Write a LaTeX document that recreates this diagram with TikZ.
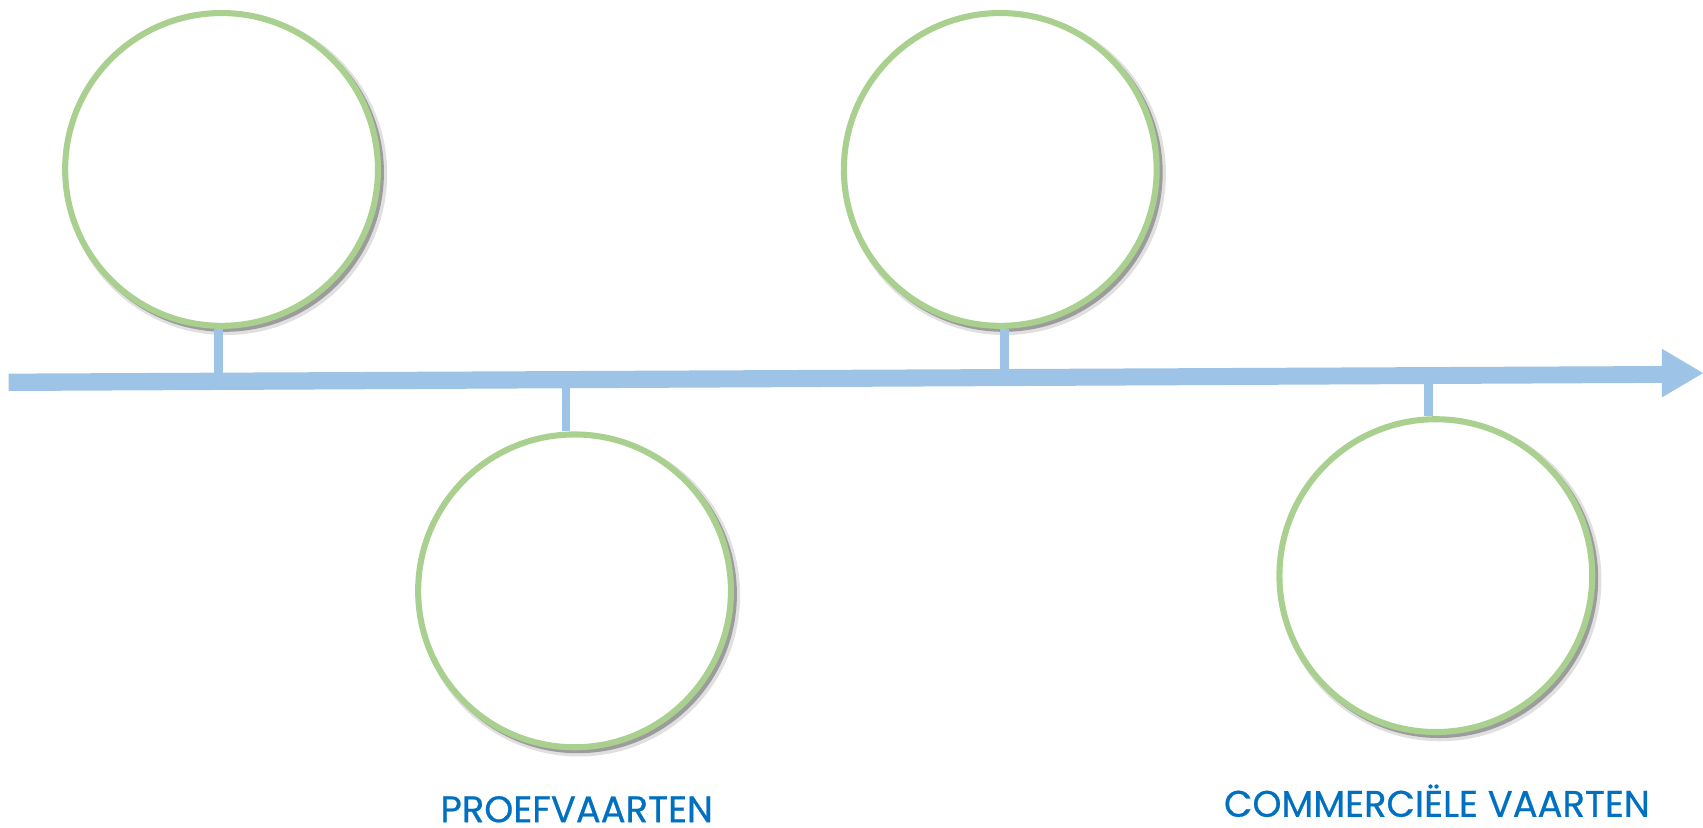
\documentclass[tikz,border=0pt]{standalone}
\usepackage{fontspec}
\setmainfont{Poppins}[FakeBold=0.6]
\usetikzlibrary{arrows.meta}
\definecolor{ringgreen}{RGB}{169,208,142}
\definecolor{lineblue}{RGB}{157,195,230}
\definecolor{textblue}{RGB}{0,112,192}
\tikzset{
  ring/.style={circle, draw=ringgreen, line width=2.8pt, fill=white, minimum size=144pt, inner sep=0pt},
  ringshadow/.style={circle, draw=black, line width=2.5pt, opacity=0.3, minimum size=144pt, inner sep=0pt},
  ringhalo/.style={circle, draw=black, line width=4.5pt, opacity=0.12, minimum size=144pt, inner sep=0pt},
  stem/.style={draw=lineblue, line width=4pt},
  label/.style={text=textblue, font=\fontsize{17}{20}\selectfont, inner sep=0pt, anchor=base},
}
\begin{document}
\begin{tikzpicture}[x=0.5pt,y=-0.5pt]
\useasboundingbox (0,0) rectangle (1568,762);
% axis
\fill[lineblue] (8,344) -- (1530,337) -- (1530,321) -- (1568,343.5) -- (1530,366) -- (1530,352.5) -- (8,360) -- cycle;
% shadows
\foreach \cx/\cy in {204/156,529/544,921/156,1322/530}{
  \node[ringhalo] at (\cx+4,\cy+4) {};
  \node[ringshadow] at (\cx+3,\cy+3) {};
}
% rings
\node[ring] (c1) at (204,156) {};
\node[ring] (c2) at (529,544) {};
\node[ring] (c3) at (921,156) {};
\node[ring] (c4) at (1322,530) {};
% stems
\coordinate (s1) at (201,346);
\coordinate (s2) at (521,356);
\coordinate (s3) at (925,341);
\coordinate (s4) at (1315,352);
\draw[stem] (s1) -- (c1.south -| s1);
\draw[stem] (s2) -- (s2 |- c2.north);
\draw[stem] (s3) -- (c3.south -| s3);
\draw[stem] (s4) -- (s4 |- c4.north);
% labels
\node[label] (t1) at (531,757) {PROEFVAARTEN};
\node[label] (t2) at (1323,752) {COMMERCIËLE VAARTEN};
\end{tikzpicture}
\end{document}
